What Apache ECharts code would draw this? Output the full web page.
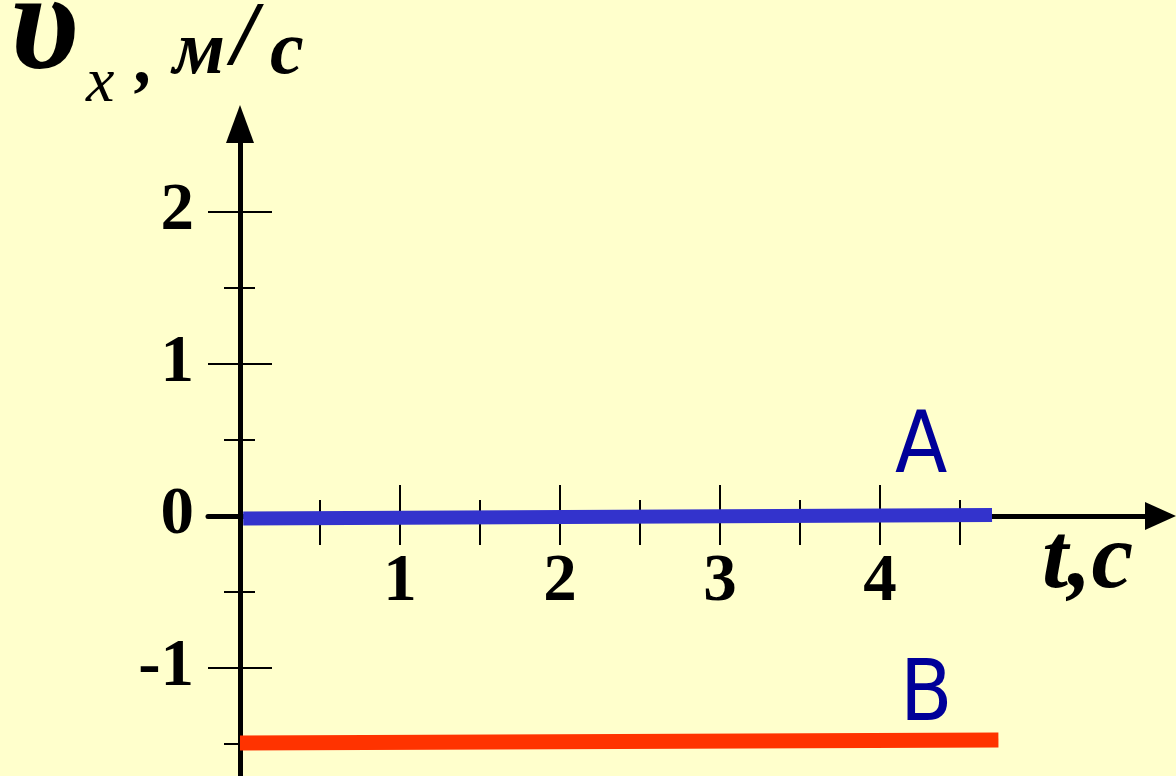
<!DOCTYPE html>
<html>
<head>
<meta charset="utf-8">
<script src="https://cdn.jsdelivr.net/npm/echarts@6/dist/echarts.min.js"></script>
<style>
  html, body { margin: 0; padding: 0; background: #FFFFCC; }
  #main { width: 1176px; height: 776px; }
</style>
</head>
<body>
<div id="main"></div>
<script>
// values
var xLabels = [1, 2, 3, 4];
var xMajorTicks = [1, 2, 3, 4];
var xMinorTicks = [0.5, 1.5, 2.5, 3.5, 4.5];
var yLabels = [-1, 0, 1, 2];
var yMajorTicks = [-1, 1, 2];
var yMinorTicks = [-1.5, -0.5, 0.5, 1.5];
var lineA = [[0.02, -0.016], [4.7, 0.007]];
var lineB = [[0, -1.493], [4.74, -1.474]];

var xRange = [-0.2, 5.753];
var yRange = [-1.7105, 2.579];

// grid is 208..1160.5 wide, 124..776 high; axes sit on t=0 / v=0 via offset
var xOffset = -260;
var yOffset = -32;

var numFont = 'Liberation Serif';
var tickStyle = { color: '#000', width: 2 };

function xAxisPart(opts) {
  return Object.assign({
    type: 'value', position: 'bottom', offset: xOffset,
    min: xRange[0], max: xRange[1],
    axisLine: { show: false, onZero: false },
    axisTick: { show: false },
    axisLabel: { show: false },
    splitLine: { show: false }
  }, opts);
}

function yAxisPart(opts) {
  return Object.assign({
    type: 'value', position: 'left', offset: yOffset,
    min: yRange[0], max: yRange[1],
    axisLine: { show: false, onZero: false },
    axisTick: { show: false },
    axisLabel: { show: false },
    splitLine: { show: false }
  }, opts);
}

var chart = echarts.init(document.getElementById('main'), null, { renderer: 'canvas' });

chart.setOption({
  backgroundColor: '#FFFFCC',
  animation: false,
  grid: { left: 208, right: 15.5, top: 124, bottom: 0, containLabel: false, outerBoundsMode: 'none' },
  xAxis: [
    xAxisPart({
      axisLine: {
        show: true, onZero: false,
        symbol: ['none', 'triangle'], symbolSize: [28, 31],
        lineStyle: { color: '#000', width: 5 }
      },
      axisTick: { show: true, inside: false, length: 29, customValues: xMajorTicks.concat(xMinorTicks), lineStyle: tickStyle },
      axisLabel: {
        show: true, customValues: xLabels, margin: 33,
        color: '#000', fontFamily: numFont, fontWeight: 'bold', fontSize: 67
      }
    }),
    xAxisPart({ axisTick: { show: true, inside: true, length: 31, customValues: xMajorTicks, lineStyle: tickStyle } }),
    xAxisPart({ axisTick: { show: true, inside: true, length: 16, customValues: xMinorTicks, lineStyle: tickStyle } })
  ],
  yAxis: [
    yAxisPart({
      axisLine: {
        show: true, onZero: false,
        symbol: ['none', 'triangle'], symbolSize: [28, 38],
        lineStyle: { color: '#000', width: 5 }
      },
      axisTick: { show: true, inside: false, length: 32, customValues: yMajorTicks, lineStyle: tickStyle },
      axisLabel: {
        show: true, customValues: yLabels, margin: 46,
        color: '#000', fontFamily: numFont, fontWeight: 'bold', fontSize: 67
      }
    }),
    yAxisPart({ axisTick: { show: true, inside: false, length: 16, customValues: yMinorTicks, lineStyle: tickStyle } }),
    yAxisPart({ axisTick: { show: true, inside: true, length: 32, customValues: yMajorTicks, lineStyle: tickStyle } }),
    yAxisPart({ axisTick: { show: true, inside: true, length: 15, customValues: yMinorTicks, lineStyle: tickStyle } })
  ],
  series: [
    {
      name: 'A', type: 'line', data: lineA, showSymbol: false, symbol: 'none',
      xAxisIndex: 0, yAxisIndex: 0,
      lineStyle: { color: '#3333CC', width: 14, cap: 'butt' }
    },
    {
      name: 'B', type: 'line', data: lineB, showSymbol: false, symbol: 'none',
      xAxisIndex: 0, yAxisIndex: 0,
      lineStyle: { color: '#FF3300', width: 15, cap: 'butt' }
    }
  ],
  graphic: [
    { type: 'text', left: 10, top: -38, style: { text: 'υ', font: 'italic bold 140px "Liberation Serif"', fill: '#000' } },
    { type: 'text', left: 86, top: 52, style: { text: 'x', font: 'italic 64px "Liberation Serif"', fill: '#000' } },
    { type: 'text', left: 136, top: 28, style: { text: ',', font: 'italic bold 72px "Liberation Serif"', fill: '#000' } },
    { type: 'text', left: 173, top: 15, style: { text: 'м', font: 'italic bold 76px "Liberation Serif"', fill: '#000' } },
    { type: 'text', left: 232, top: -4, style: { text: '/', font: 'italic bold 90px "Liberation Serif"', fill: '#000' } },
    { type: 'text', left: 270, top: 15, style: { text: 'с', font: 'italic bold 76px "Liberation Serif"', fill: '#000' } },
    { type: 'text', left: 1042, top: 516, style: { text: 't,с', font: 'italic bold 94px "Liberation Serif"', fill: '#000' } },
    { type: 'text', left: 895, top: 407, style: { text: 'A', font: '85px "DejaVu Sans Condensed", "DejaVu Sans"', fill: '#000099' } },
    { type: 'text', left: 900, top: 655, style: { text: 'B', font: '85px "DejaVu Sans Condensed", "DejaVu Sans"', fill: '#000099' } }
  ]
});
</script>
</body>
</html>
